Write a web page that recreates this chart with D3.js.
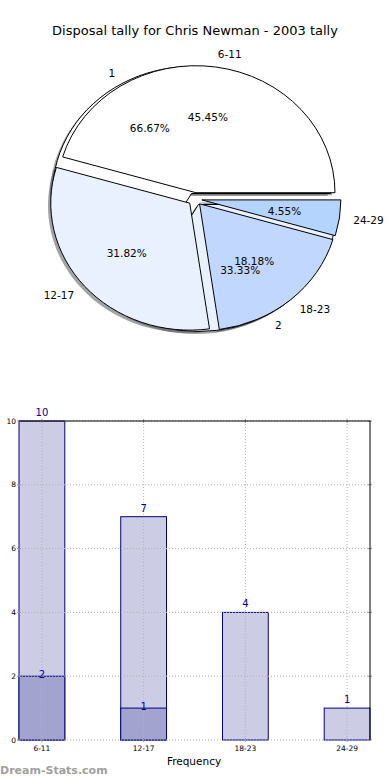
<!DOCTYPE html>
<html><head><meta charset="utf-8">
<script src="https://cdn.jsdelivr.net/npm/d3@7"></script>
<style>body{margin:0;background:#fff} svg{display:block}</style>
</head><body>
<script>
const title = "Disposal tally for Chris Newman - 2003 tally";
const categories = ["6-11", "12-17", "18-23", "24-29"];
const counts = [10, 7, 4, 1];
const subLabels = ["1", "2"];
const subCounts = [2, 1];
const yTicks = [0, 2, 4, 6, 8, 10];
const xAxisTitle = "Frequency";
const watermark = "Dream-Stats.com";
const pieColors = ["#ffffff", "#eaf1fe", "#c2d7fe", "#b4d4fe"];
const subColors = ["#ffffff", "#eaf1fe"];

const W = 390, H = 780;
const svg = d3.select("body").append("svg").attr("width", W).attr("height", H)
  .style("font-family", "'DejaVu Sans', sans-serif");

svg.append("text").attr("x", 195).attr("y", 30).attr("text-anchor", "middle")
  .attr("dominant-baseline", "central").attr("font-size", 13).attr("fill", "#000").text(title);

// ---------- Pie ----------
const cx = 195, cy = 199, rx = 139, ry = 127, explode = 0.05;
const pieGen = d3.pie().sort(null).value(d => d.v)
  .startAngle(Math.PI / 2).endAngle(Math.PI / 2 - 2 * Math.PI);
const arcGen = d3.arc().innerRadius(0).outerRadius(rx);

const mainData = pieGen(categories.map((c, i) => ({ label: c, v: counts[i], color: pieColors[i] })));
const subData = pieGen(subLabels.map((c, i) => ({ label: c, v: subCounts[i], color: subColors[i] })));
const total = d3.sum(counts), subTotal = d3.sum(subCounts);

function mid(d) { return (d.startAngle + d.endAngle) / 2; }
function center(d) {
  const a = mid(d);
  return [cx + explode * rx * Math.sin(a), cy - explode * ry * Math.cos(a)];
}
const pieG = svg.append("g");
function shadowColor(c) {
  const r = d3.rgb(c);
  return d3.rgb(r.r * 0.3, r.g * 0.3, r.b * 0.3).toString();
}
[...subData, ...mainData].forEach(d => {
  const [x, y] = center(d);
  pieG.append("path").attr("d", arcGen(d))
    .attr("transform", `translate(${x - 0.02 * rx},${y + 0.02 * ry}) scale(1,${ry / rx})`)
    .attr("fill", shadowColor(d.data.color)).attr("fill-opacity", 0.5);
});
[...subData, ...mainData].forEach(d => {
  const [x, y] = center(d);
  pieG.append("path").attr("d", arcGen(d))
    .attr("transform", `translate(${x},${y}) scale(1,${ry / rx})`)
    .attr("fill", d.data.color).attr("stroke", "#000").attr("stroke-width", 1)
    .attr("vector-effect", "non-scaling-stroke").attr("stroke-linejoin", "round");
});
function pieTexts(data, tot) {
  data.forEach(d => {
    const a = mid(d);
    const [x, y] = center(d);
    const s = Math.sin(a), c = Math.cos(a);
    pieG.append("text").attr("x", x + 1.1 * rx * s).attr("y", y - 1.1 * ry * c)
      .attr("text-anchor", s > 0 ? "start" : "end").attr("dominant-baseline", "central")
      .attr("font-size", 10.5).text(d.data.label);
    pieG.append("text").attr("x", x + 0.6 * rx * s).attr("y", y - 0.6 * ry * c)
      .attr("text-anchor", "middle").attr("dominant-baseline", "central")
      .attr("font-size", 10.5).text((d.data.v / tot * 100).toFixed(2) + "%");
  });
}
pieTexts(subData, subTotal);
pieTexts(mainData, total);

// ---------- Bar chart ----------
const x0 = 19, x1 = 370, yTop = 421, yBot = 740, barW = 0.45;
const x = d3.scaleLinear().domain([-barW / 2, categories.length - 1 + barW / 2]).range([x0, x1]);
const y = d3.scaleLinear().domain([0, 10]).range([yBot, yTop]);
const bw = x(barW) - x(0);
const barG = svg.append("g");
const subVals = categories.map((c, i) => i < subCounts.length ? subCounts[i] : 0);

barG.selectAll("rect.main").data(counts).join("rect").attr("class", "main")
  .attr("x", (d, i) => x(i) - bw / 2).attr("y", d => y(d))
  .attr("width", bw).attr("height", d => yBot - y(d))
  .attr("fill", "#ccccE5").attr("stroke", "#000080").attr("stroke-width", 1);
barG.selectAll("rect.sub").data(subVals).join("rect").attr("class", "sub")
  .attr("x", (d, i) => x(i) - bw / 2).attr("y", d => y(d))
  .attr("width", bw).attr("height", d => yBot - y(d))
  .style("display", d => d > 0 ? null : "none")
  .attr("fill", "#a3a3d0").attr("stroke", "#000080").attr("stroke-width", 1);

const gridC = "#b4b4b4";
barG.selectAll("line.hg").data(yTicks).join("line").attr("class", "hg")
  .attr("x1", x0).attr("x2", x1).attr("y1", d => y(d)).attr("y2", d => y(d))
  .attr("stroke", gridC).attr("stroke-dasharray", "1,2");
barG.selectAll("line.vg").data(categories).join("line").attr("class", "vg")
  .attr("x1", (d, i) => x(i)).attr("x2", (d, i) => x(i)).attr("y1", yTop).attr("y2", yBot)
  .attr("stroke", gridC).attr("stroke-dasharray", "1,2");
barG.selectAll("line.yt").data(yTicks).join("line").attr("class", "yt")
  .attr("x1", x0 - 2).attr("x2", x0 + 2).attr("y1", d => y(d)).attr("y2", d => y(d)).attr("stroke", "#999");
barG.selectAll("line.yt2").data(yTicks).join("line").attr("class", "yt2")
  .attr("x1", x1 - 2).attr("x2", x1 + 2).attr("y1", d => y(d)).attr("y2", d => y(d)).attr("stroke", "#999");
barG.selectAll("line.xt").data(categories).join("line").attr("class", "xt")
  .attr("x1", (d, i) => x(i)).attr("x2", (d, i) => x(i)).attr("y1", yBot - 2).attr("y2", yBot + 2).attr("stroke", "#999");
barG.selectAll("line.xt2").data(categories).join("line").attr("class", "xt2")
  .attr("x1", (d, i) => x(i)).attr("x2", (d, i) => x(i)).attr("y1", yTop - 2).attr("y2", yTop + 2).attr("stroke", "#999");
barG.append("line").attr("x1", x0).attr("x2", x1 + 0.5).attr("y1", yTop).attr("y2", yTop).attr("stroke", "#000");
barG.append("line").attr("x1", x1).attr("x2", x1).attr("y1", yTop).attr("y2", yBot).attr("stroke", "#000");

barG.selectAll("text.yl").data(yTicks).join("text").attr("class", "yl")
  .attr("x", x0 - 3).attr("y", d => y(d)).attr("text-anchor", "end").attr("dominant-baseline", "central")
  .attr("font-size", 7.5).attr("fill", "#000").text(d => d);
barG.selectAll("text.xl").data(categories).join("text").attr("class", "xl")
  .attr("x", (d, i) => x(i)).attr("y", yBot + 8.5).attr("text-anchor", "middle").attr("dominant-baseline", "central")
  .attr("font-size", 7.5).attr("fill", "#000").text(d => d);

barG.selectAll("text.vl").data(counts).join("text").attr("class", "vl")
  .attr("x", (d, i) => x(i)).attr("y", d => y(d) - 8.5).attr("text-anchor", "middle").attr("dominant-baseline", "central")
  .attr("font-size", 10).attr("fill", "#000099").text(d => d);
barG.selectAll("text.sl").data(subVals).join("text").attr("class", "sl")
  .attr("x", (d, i) => x(i)).attr("y", d => y(d) - 1.5).attr("text-anchor", "middle").attr("dominant-baseline", "central")
  .style("display", d => d > 0 ? null : "none")
  .attr("font-size", 10).attr("fill", "#000099").text(d => d);

svg.append("text").attr("x", 194).attr("y", 760.5).attr("text-anchor", "middle").attr("dominant-baseline", "central")
  .attr("font-size", 10.5).attr("fill", "#000").text(xAxisTitle);
svg.append("text").attr("x", 0).attr("y", 770.5).attr("text-anchor", "start").attr("dominant-baseline", "central")
  .attr("font-size", 11).attr("font-weight", "bold").attr("fill", "#a0a0a0").text(watermark);
</script>
</body></html>
